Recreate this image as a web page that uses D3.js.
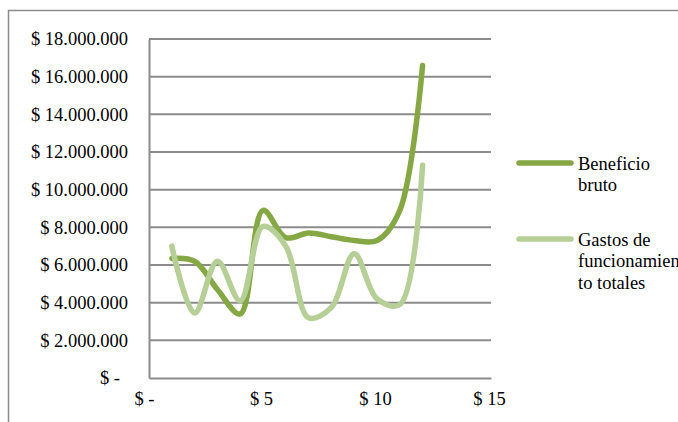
<!DOCTYPE html>
<html><head><meta charset="utf-8">
<script src="https://cdn.jsdelivr.net/npm/d3@7"></script>
<style>
body{margin:0;background:#fff;}
svg{display:block;}
</style></head>
<body><svg id="c" width="678" height="422"></svg>
<script>
const months = [1,2,3,4,5,6,7,8,9,10,11,12];
const beneficioBruto = [6350000,6200000,4700000,3400000,8900000,7450000,7700000,7500000,7300000,7300000,8900000,16600000];
const gastosFuncionamiento = [7000000,3450000,6200000,4100000,8050000,7000000,3200000,3750000,6600000,4200000,3900000,11300000];
const yTicks = [0,2000000,4000000,6000000,8000000,10000000,12000000,14000000,16000000,18000000];
const xTicks = [0,5,10,15];
const seriesNames = [["Beneficio","bruto"],["Gastos de","funcionamien","to totales"]];
const colors = ["#86a844","#b5cf96"];
const FONT = "\"Liberation Serif\"";
const FS = "18.5px";

const svg = d3.select("#c");
svg.append("rect").attr("x",8.5).attr("y",10.5).attr("width",700).attr("height",430)
  .attr("fill","none").attr("stroke","#8c8c8c").attr("stroke-width",1.5);

const x = d3.scaleLinear().domain([0,15]).range([149,491]);
const y = d3.scaleLinear().domain([0,18000000]).range([378,39]);

const fmtY = v => v===0 ? "$ -" : "$ " + d3.format(",")(v).replace(/,/g,".");
const fmtX = v => v===0 ? "$ -" : "$ " + v;

svg.append("g").selectAll("line").data(yTicks.filter(d=>d>0)).join("line")
  .attr("x1",x(0)).attr("x2",x(15)).attr("y1",d=>y(d)).attr("y2",d=>y(d))
  .attr("stroke","#8c8c8c").attr("stroke-width",2);

const yAxis = svg.append("g").attr("transform",`translate(${x(0)},0)`)
  .call(d3.axisLeft(y).tickValues(yTicks).tickFormat(fmtY).tickSize(0).tickPadding(21));
yAxis.attr("font-family",null).attr("font-size",null);
yAxis.select(".domain").attr("stroke","#8c8c8c").attr("stroke-width",2);
yAxis.selectAll("text").style("font-size",FS).style("font-family",FONT).attr("fill","#000")
  .attr("dx",d=>d===0?-8:0);

const xAxis = svg.append("g").attr("transform",`translate(0,${y(0)})`)
  .call(d3.axisBottom(x).tickValues(xTicks).tickFormat(fmtX).tickSize(0).tickPadding(14));
xAxis.attr("font-family",null).attr("font-size",null);
xAxis.select(".domain").attr("stroke","#8c8c8c").attr("stroke-width",2);
xAxis.selectAll("text").style("font-size",FS).style("font-family",FONT).attr("fill","#000")
  .attr("dx",d=>d===0?-5:-2);

const line = d3.line().x((d,i)=>x(months[i])).y(d=>y(d)).curve(d3.curveCatmullRom.alpha(0.5));
[beneficioBruto,gastosFuncionamiento].forEach((s,k)=>{
  svg.append("path").attr("d",line(s)).attr("fill","none")
    .attr("stroke",colors[k]).attr("stroke-width",5.5).attr("stroke-linecap","round").attr("stroke-linejoin","round");
});

const legY = [163,239];
seriesNames.forEach((lines,k)=>{
  svg.append("line").attr("x1",519).attr("x2",571).attr("y1",legY[k]).attr("y2",legY[k])
    .attr("stroke",colors[k]).attr("stroke-width",5.5).attr("stroke-linecap","round");
  lines.forEach((t,j)=>{
    svg.append("text").attr("x",578).attr("y",legY[k]+7+j*21.3)
      .style("font-size",FS).style("font-family",FONT).text(t);
  });
});
</script></body></html>
